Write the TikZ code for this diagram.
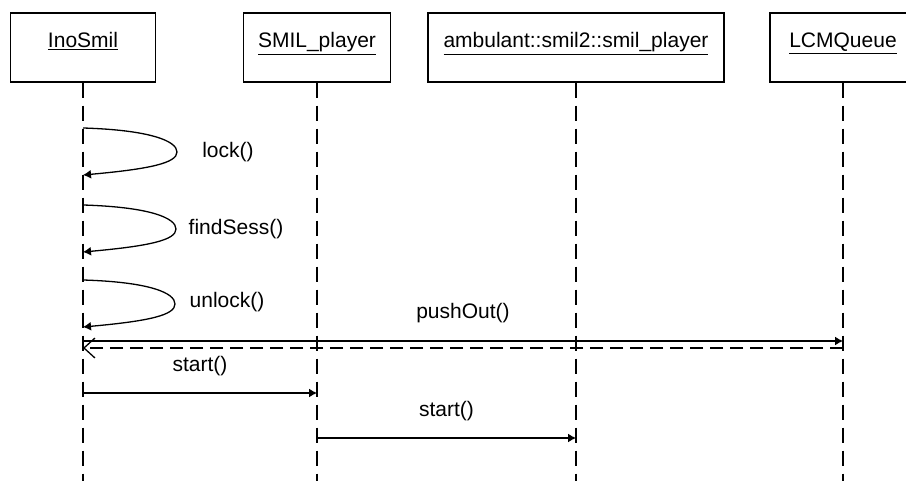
\documentclass[tikz,border=0pt]{standalone}
\usepackage{fontspec}
\setmainfont{Liberation Sans}
\usetikzlibrary{arrows.meta}

\begin{document}
\begin{tikzpicture}[
  x=1pt, y=-1pt,
  every node/.style={font=\fontsize{21}{25}\selectfont},
  obj/.style={
    draw, line width=1.4pt, minimum height=69pt, inner xsep=0pt,
    text height=15pt, text depth=14pt,
  },
  lbl/.style={inner sep=1pt},
  msg/.style={line width=1.3pt, -{Latex[length=8pt,width=9pt]}},
  reply/.style={line width=1.3pt, dash pattern=on 13pt off 7pt,
    -{Straight Barb[length=11pt,width=20pt]}},
  life/.style={line width=1.5pt, dash pattern=on 15pt off 8pt},
]
  \clip (0,0) rectangle (906,481);

  % objects
  \node[obj, minimum width=145pt] (ino)  at (83,47.5)  {\underline{InoSmil}};
  \node[obj, minimum width=147pt] (smil) at (317,47.5) {\underline{SMIL\_player}};
  \node[obj, minimum width=296pt] (amb)  at (576,47.5) {\underline{ambulant::smil2::smil\_player}};
  \node[obj, minimum width=146pt] (lcm)  at (843,47.5) {\underline{LCMQueue}};

  % lifelines
  \foreach \o in {ino,smil,amb,lcm}
    \draw[life] (\o.south) -- (\o |- 0,481);

  % self calls on InoSmil
  \draw[msg] (ino |- 0,128) .. controls (150,130) and (177,141) .. (177,152)
    .. controls (177,163) and (150,169) .. (ino |- 0,175);
  \node[lbl] (lock) at (228,152) {lock()};

  \draw[msg] (ino |- 0,205) .. controls (150,207) and (176,218) .. (176,229)
    .. controls (176,240) and (150,246) .. (ino |- 0,252);
  \node[lbl] (find) at (236,229) {findSess()};

  \draw[msg] (ino |- 0,280) .. controls (150,282) and (175,293) .. (175,304)
    .. controls (175,315) and (150,321) .. (ino |- 0,327);
  \node[lbl] (unlock) at (227,302) {unlock()};

  % messages
  \draw[msg] (ino |- 0,341) -- (lcm |- 0,341)
    node[lbl, midway, above=16pt] (push) {pushOut()};
  \draw[reply] (lcm |- 0,348) -- (ino |- 0,348);

  \draw[msg] (ino |- 0,393) -- (smil |- 0,393)
    node[lbl, midway, above=16pt] (start1) {start()};

  \draw[msg] (smil |- 0,438) -- (amb |- 0,438)
    node[lbl, midway, above=16pt] (start2) {start()};
\end{tikzpicture}
\end{document}
